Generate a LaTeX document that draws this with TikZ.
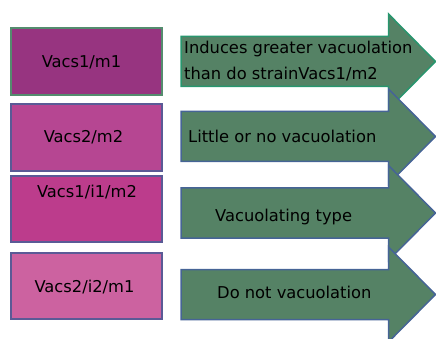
\documentclass[tikz,border=0pt]{standalone}
\usepackage{fontspec}
\setmainfont{DejaVu Sans}
\definecolor{boxA}{RGB}{151,52,128}
\definecolor{boxB}{RGB}{182,70,146}
\definecolor{boxC}{RGB}{188,60,140}
\definecolor{boxD}{RGB}{204,98,160}
\definecolor{edgeA}{RGB}{84,140,110}
\definecolor{edgeB}{RGB}{90,90,150}
\definecolor{arrowfill}{RGB}{85,130,101}
\definecolor{arrowedgeA}{RGB}{40,150,110}
\definecolor{arrowedgeB}{RGB}{70,100,150}
\newcommand\bigarrow[2]{%
  \draw[arrowst, draw=#2] (181,{#1-25}) -- (388.5,{#1-25}) -- (388.5,{#1-47.5}) -- (435.5,#1) -- (388.5,{#1+47.5}) -- (388.5,{#1+25}) -- (181,{#1+25}) -- cycle;}
\begin{document}
\begin{tikzpicture}[x=1pt,y=-1pt,
  boxst/.style={draw, line width=1.5pt, minimum width=151pt, minimum height=67pt, inner sep=0pt},
  arrowst/.style={fill=arrowfill, line width=1.5pt, line join=miter},
  lbl/.style={inner sep=0pt, font=\fontsize{16.3}{26}\selectfont, text=black}]
\clip (0,0) rectangle (436,339);
% boxes
\node[boxst, fill=boxA, draw=edgeA] (b1) at (86.5,61.5) {};
\node[boxst, fill=boxB, draw=edgeB] (b2) at (86.5,137.5) {};
\node[boxst, fill=boxC, draw=edgeB, minimum height=66pt] (b3) at (86.5,209) {};
\node[boxst, fill=boxD, draw=edgeB, minimum height=66pt] (b4) at (86.5,286) {};
\node[lbl] (t1) at (81.5,62) {Vacs1/m1};
\node[lbl] (t2) at (83.5,137) {Vacs2/m2};
\node[lbl] (t3) at (87,192) {Vacs1/i1/m2};
\node[lbl] (t4) at (84.5,287) {Vacs2/i2/m1};
% arrows
\bigarrow{61.5}{arrowedgeA}
\bigarrow{136.5}{arrowedgeB}
\bigarrow{213}{arrowedgeB}
\bigarrow{294.5}{arrowedgeB}
\node[lbl, anchor=west, align=left] (a1) at (184,61.5) {Induces greater vacuolation\\than do strainVacs1/m2};
\node[lbl, anchor=west] (a2) at (188,136) {Little or no vacuolation};
\node[lbl, anchor=west] (a3) at (215,217) {Vacuolating type};
\node[lbl, anchor=west] (a4) at (217,292) {Do not vacuolation};
\end{tikzpicture}
\end{document}
